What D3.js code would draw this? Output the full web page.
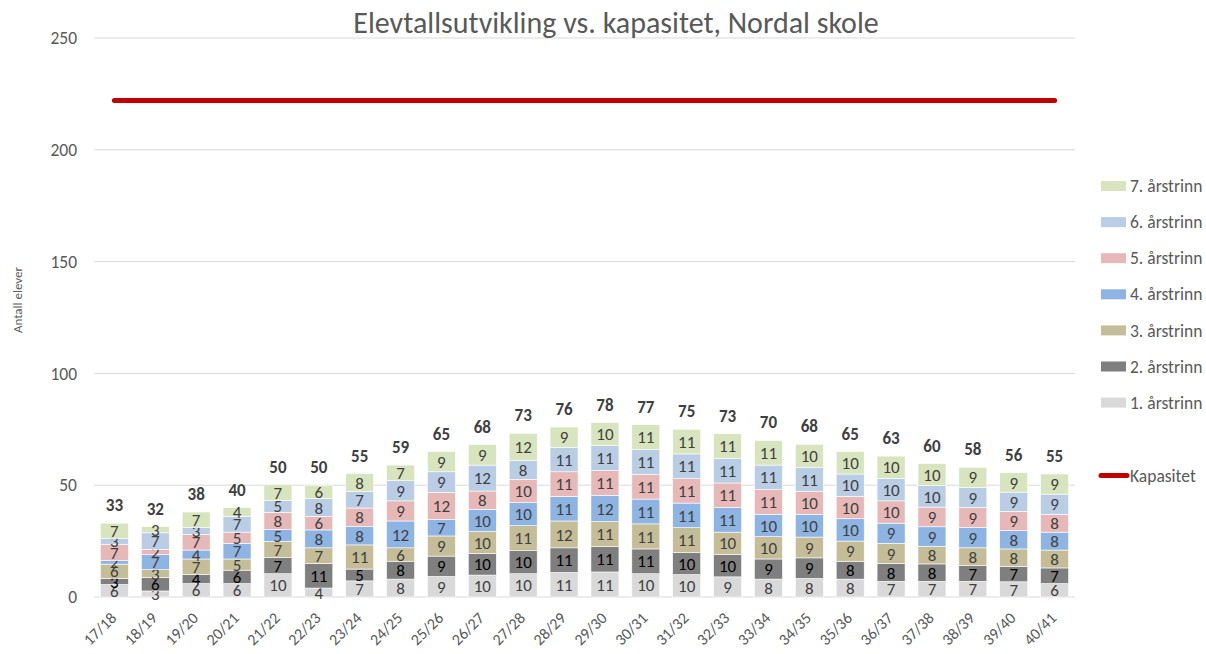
<!DOCTYPE html>
<html><head><meta charset="utf-8">
<script src="https://cdn.jsdelivr.net/npm/d3@7"></script>
<style>body{margin:0;background:#fff}svg{display:block}</style>
</head><body><svg id="c" width="1206" height="654"></svg>
<script>
const categories = ["17/18","18/19","19/20","20/21","21/22","22/23","23/24","24/25","25/26","26/27","27/28","28/29","29/30","30/31","31/32","32/33","33/34","34/35","35/36","36/37","37/38","38/39","39/40","40/41"];
const trinn1 = [5.6,2.7,6,6,10.4,4,7.2,8,9.2,9.8,10.4,11,11.2,10.4,10,9,8,8.3,8,7,7.0,7,6.8,6];
const trinn2 = [2.7,6.1,4,6,7.2,11,5.3,8,9.1,9.7,10.3,11,11.3,11.1,10,10,9,9.2,8,8,7.8,7,6.9,7];
const trinn3 = [6.4,3.4,7,5,7.3,7,10.8,6,9.0,9.8,11.2,12,11.2,11.2,11,10,10,9.3,9,9,7.9,8,7.8,8];
const trinn4 = [1.6,6.7,4,7,5.2,8,8.2,12,7.3,9.9,10.3,11,11.7,11.1,11,11,10,10.2,10,9,8.7,9,8.2,8];
const trinn5 = [7.3,2.4,7,5,7.8,6,8.3,9,12.2,8.2,10.4,11,11.1,11.1,11,11,11,10.3,10,10,8.8,9,8.6,8];
const trinn6 = [2.6,7.4,3,7,5.3,8,7.3,9,9.2,11.6,8.4,11,11.2,11.0,11,11,11,10.6,10,10,9.6,9,8.6,9];
const trinn7 = [6.8,2.8,7,4,7.0,6,8.1,7,9.0,9.2,12.2,9,10.3,11.2,11,11,11,10.4,10,10,9.8,9,8.7,9];
const kapasitet = 222;
const seriesNames = ["1. årstrinn","2. årstrinn","3. årstrinn","4. årstrinn","5. årstrinn","6. årstrinn","7. årstrinn"];
const yTicks = [0,50,100,150,200,250];

(function(){
const colors = ["#D9D9D9","#7F7F7F","#C4BD97","#8DB4E2","#E6B9B8","#B9CDE5","#D7E4BD"];
const labelColors = ["#404040","#000000","#404040","#404040","#404040","#404040","#404040"];
const seriesData = [trinn1,trinn2,trinn3,trinn4,trinn5,trinn6,trinn7];
const rows = categories.map((c,i)=>{const o={cat:c}; seriesNames.forEach((s,j)=>o[s]=seriesData[j][i]); return o;});

const svg = d3.select("#c");
const font = "Calibri, Carlito, 'Open Sans', 'Liberation Sans', sans-serif";
const pl=94, pr=1075, pt=38, pb=597;
const x = d3.scaleBand().domain(categories).range([pl,pr]).paddingInner(0.315).paddingOuter(0.157);
const y = d3.scaleLinear().domain([0,250]).range([pb,pt]);

svg.append("g").selectAll("line").data(yTicks).join("line")
  .attr("x1",pl).attr("x2",pr).attr("y1",d=>y(d)).attr("y2",d=>y(d))
  .attr("stroke","#D9D9D9").attr("stroke-width",1);

const yAxis = svg.append("g").attr("transform",`translate(${pl},0)`)
  .call(d3.axisLeft(y).tickValues(yTicks).tickSize(0).tickPadding(17));
yAxis.select(".domain").remove();
yAxis.selectAll("text").attr("font-family",font).attr("font-size",17.5).attr("fill","#595959");

const xAxis = svg.append("g").attr("transform",`translate(0,${pb})`)
  .call(d3.axisBottom(x).tickSize(0).tickPadding(0));
xAxis.select(".domain").remove();
xAxis.selectAll("text").attr("font-family",font).attr("font-size",16).attr("fill","#595959")
  .attr("text-anchor","end").attr("dy",0).attr("y",0).attr("transform","translate(3,22) rotate(-45)");

const stack = d3.stack().keys(seriesNames)(rows);
const g = svg.append("g");
stack.forEach((layer,j)=>{
  g.append("g").selectAll("rect").data(layer).join("rect")
    .attr("x",d=>x(d.data.cat)).attr("width",x.bandwidth())
    .attr("y",d=>y(d[1])).attr("height",d=>y(d[0])-y(d[1]))
    .attr("fill",colors[j]).attr("stroke","#fff").attr("stroke-width",0.6);
  g.append("g").selectAll("text").data(layer).join("text")
    .attr("x",d=>x(d.data.cat)+x.bandwidth()/2).attr("y",d=>y((d[0]+d[1])/2))
    .attr("dy","0.36em").attr("text-anchor","middle")
    .attr("font-family",font).attr("font-size",17).attr("fill",labelColors[j])
    .text(d=>Math.round(d[1]-d[0]));
});
const totals = rows.map((r,i)=>({cat:r.cat,v:d3.sum(seriesData,s=>s[i])}));
svg.append("g").selectAll("text").data(totals).join("text")
  .attr("x",d=>x(d.cat)+x.bandwidth()/2).attr("y",d=>y(d.v)-12)
  .attr("text-anchor","middle").attr("font-family",font).attr("font-size",17).attr("font-weight","bold")
  .attr("fill","#404040").text(d=>Math.round(d.v));

const line = d3.line().x(d=>x(d)+x.bandwidth()/2).y(()=>y(kapasitet));
svg.append("path").datum(categories).attr("d",line).attr("fill","none")
  .attr("stroke","#C00000").attr("stroke-width",5).attr("stroke-linecap","round");

svg.append("text").attr("x",616).attr("y",33).attr("text-anchor","middle")
  .attr("font-family",font).attr("font-size",30).attr("fill","#595959")
  .text("Elevtallsutvikling vs. kapasitet, Nordal skole");

svg.append("text").attr("transform","translate(22,300) rotate(-90)").attr("text-anchor","middle")
  .attr("font-family",font).attr("font-size",13).attr("fill","#595959").text("Antall elever");

const leg = svg.append("g");
const legItems = seriesNames.slice().reverse();
legItems.forEach((s,k)=>{
  const cy = 186 + k*36.1;
  const j = seriesNames.indexOf(s);
  leg.append("rect").attr("x",1101).attr("y",cy-5).attr("width",25).attr("height",10).attr("fill",colors[j]);
  leg.append("text").attr("x",1130).attr("y",cy).attr("dy","0.35em").attr("font-family",font)
    .attr("font-size",17.5).attr("fill","#595959").text(s);
});
leg.append("line").attr("x1",1101).attr("x2",1127).attr("y1",475.5).attr("y2",475.5)
  .attr("stroke","#C00000").attr("stroke-width",5).attr("stroke-linecap","round");
leg.append("text").attr("x",1130).attr("y",475.5).attr("dy","0.35em").attr("font-family",font)
  .attr("font-size",17.5).attr("fill","#595959").text("Kapasitet");
})();
</script></body></html>
